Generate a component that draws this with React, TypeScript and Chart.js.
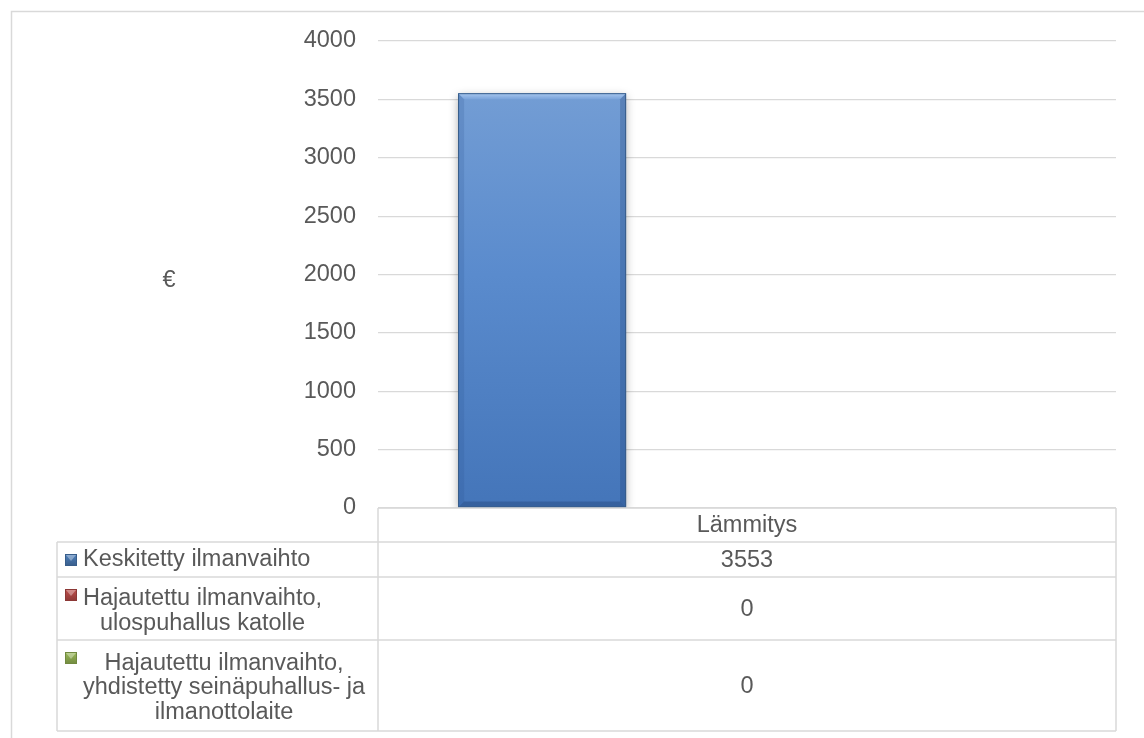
import React, { useEffect, useRef } from 'react';
import { Chart, registerables } from 'chart.js';

Chart.register(...registerables);

// ---- Data ----
const categories = ['Lämmitys'];
const seriesNames = [
  'Keskitetty ilmanvaihto',
  'Hajautettu ilmanvaihto, ulospuhallus katolle',
  'Hajautettu ilmanvaihto, yhdistetty seinäpuhallus- ja ilmanottolaite',
];
const keskitetty = [3553];
const hajautettuKatolle = [0];
const hajautettuSeina = [0];
const yMin = 0;
const yMax = 4000;
const yStep = 500;
const yAxisTitle = '€';

// ---- Styles ----
const seriesColors = ['#4f81bd', '#c0504d', '#9bbb59'];
const seriesEdges = ['#385d8a', '#8c3836', '#71893f'];
const FAMILY = '"Liberation Sans", Arial, sans-serif';
const FONT_SIZE = 23.5;
const FONT = `${FONT_SIZE}px ${FAMILY}`;
const TEXT = '#595959';
const LINE = '#d9d9d9';

function wrapText(ctx: CanvasRenderingContext2D, text: string, maxW: number): string[] {
  const words = text.split(' ');
  const lines: string[] = [];
  let cur = '';
  for (const w of words) {
    const test = cur ? cur + ' ' + w : w;
    if (cur && ctx.measureText(test).width > maxW) {
      lines.push(cur);
      cur = w;
    } else {
      cur = test;
    }
  }
  if (cur) lines.push(cur);
  return lines;
}

const shadowPlugin = {
  id: 'barShadow',
  beforeDatasetsDraw(chart: any) {
    const ctx = chart.ctx;
    ctx.save();
    ctx.shadowColor = 'rgba(0,0,0,0.35)';
    ctx.shadowBlur = 9;
    ctx.shadowOffsetX = 0;
    ctx.shadowOffsetY = 3;
  },
  afterDatasetsDraw(chart: any) {
    const ctx = chart.ctx;
    ctx.restore();
    const area = chart.chartArea;
    ctx.save();
    ctx.beginPath();
    ctx.rect(area.left, area.top - 5, area.right - area.left, area.bottom - area.top + 5);
    ctx.clip();
    chart.data.datasets.forEach((_ds: any, di: number) => {
      const meta = chart.getDatasetMeta(di);
      meta.data.forEach((el: any) => {
        const { x, y, base, width } = el.getProps(['x', 'y', 'base', 'width'], true);
        const h = base - y;
        if (h < 2) return;
        const l = x - width / 2;
        const r = x + width / 2;
        const t = y;
        const b = base;
        const bv = 6;
        ctx.beginPath();
        ctx.moveTo(l, t);
        ctx.lineTo(r, t);
        ctx.lineTo(r - bv, t + bv);
        ctx.lineTo(l + bv, t + bv);
        ctx.closePath();
        const tg = ctx.createLinearGradient(0, t, 0, t + bv);
        tg.addColorStop(0, '#a9c8ef');
        tg.addColorStop(1, '#7aa3da');
        ctx.fillStyle = tg;
        ctx.fill();
        ctx.beginPath();
        ctx.moveTo(l, t);
        ctx.lineTo(l + bv, t + bv);
        ctx.lineTo(l + bv, b - bv);
        ctx.lineTo(l, b);
        ctx.closePath();
        ctx.fillStyle = 'rgba(40,80,140,0.18)';
        ctx.fill();
        ctx.beginPath();
        ctx.moveTo(r, t);
        ctx.lineTo(r - bv, t + bv);
        ctx.lineTo(r - bv, b - bv);
        ctx.lineTo(r, b);
        ctx.closePath();
        ctx.fillStyle = 'rgba(30,60,110,0.28)';
        ctx.fill();
        ctx.beginPath();
        ctx.moveTo(l, b);
        ctx.lineTo(r, b);
        ctx.lineTo(r - bv, b - bv);
        ctx.lineTo(l + bv, b - bv);
        ctx.closePath();
        ctx.fillStyle = 'rgba(30,60,110,0.35)';
        ctx.fill();
        ctx.strokeStyle = seriesEdges[di];
        ctx.lineWidth = 1;
        ctx.strokeRect(l + 0.5, t + 0.5, width - 1, h - 1);
      });
    });
    ctx.restore();
  },
};

const tablePlugin = {
  id: 'dataTable',
  afterDraw(chart: any) {
    const ctx: CanvasRenderingContext2D = chart.ctx;
    const area = chart.chartArea;
    ctx.save();

    ctx.strokeStyle = LINE;
    ctx.lineWidth = 1.5;
    ctx.strokeRect(11.5, 11.5, chart.width + 40, chart.height + 40);

    ctx.font = FONT;
    ctx.fillStyle = TEXT;
    ctx.textAlign = 'center';
    ctx.textBaseline = 'middle';

    ctx.fillText(yAxisTitle, 169, (area.top + area.bottom) / 2 + 6);

    const left = area.left;
    const right = area.right;
    const labelLeft = 57;
    const headerH = 34;
    const catW = (right - left) / chart.data.labels.length;
    const tableTop = area.bottom;

    chart.data.labels.forEach((c: string, i: number) => {
      ctx.fillText(c, left + catW * (i + 0.5), tableTop + headerH / 2 + 1);
    });

    const hLines: Array<[number, number, number]> = [[tableTop, left, right]];
    let y = tableTop + headerH;
    const lh = 24.5;
    chart.data.datasets.forEach((ds: any, di: number) => {
      ctx.font = FONT;
      const lines = wrapText(ctx, ds.label, 300);
      const h = 35 + (lines.length - 1) * 28;
      hLines.push([y, labelLeft, right]);
      const cy = y + h / 2 + (lines.length > 1 ? 2.5 : 0.5);
      const maxW = Math.max(...lines.map((ln) => ctx.measureText(ln).width));
      const blockCx = 83 + maxW / 2;
      ctx.fillStyle = TEXT;
      lines.forEach((ln, li) => {
        ctx.fillText(ln, blockCx, cy + (li - (lines.length - 1) / 2) * lh);
      });
      const mx = 65;
      const my = y + 12;
      const ms = 12;
      const g = ctx.createLinearGradient(0, my, 0, my + ms);
      g.addColorStop(0, seriesColors[di]);
      g.addColorStop(1, seriesEdges[di]);
      ctx.fillStyle = g;
      ctx.fillRect(mx, my, ms, ms);
      ctx.beginPath();
      ctx.moveTo(mx + 1, my + 1);
      ctx.lineTo(mx + ms - 1, my + 1);
      ctx.lineTo(mx + ms / 2, my + ms / 2 + 1);
      ctx.closePath();
      ctx.fillStyle = 'rgba(255,255,255,0.35)';
      ctx.fill();
      ctx.strokeStyle = seriesEdges[di];
      ctx.lineWidth = 1;
      ctx.strokeRect(mx + 0.5, my + 0.5, ms - 1, ms - 1);
      ctx.fillStyle = TEXT;
      ds.data.forEach((v: number, ci: number) => {
        ctx.fillText(String(v), left + catW * (ci + 0.5), y + h / 2 + 1);
      });
      y += h;
    });
    const tableBottom = y;
    hLines.push([tableBottom, labelLeft, right]);

    ctx.strokeStyle = LINE;
    ctx.lineWidth = 1.5;
    ctx.beginPath();
    hLines.forEach(([yy, x0, x1]) => {
      ctx.moveTo(x0, yy);
      ctx.lineTo(x1, yy);
    });
    ctx.moveTo(left, tableTop);
    ctx.lineTo(left, tableBottom);
    ctx.moveTo(right, tableTop);
    ctx.lineTo(right, tableBottom);
    ctx.moveTo(labelLeft, tableTop + headerH);
    ctx.lineTo(labelLeft, tableBottom);
    for (let i = 1; i < chart.data.labels.length; i++) {
      ctx.moveTo(left + catW * i, tableTop);
      ctx.lineTo(left + catW * i, tableBottom);
    }
    ctx.stroke();
    ctx.restore();
  },
};

function barGradient(context: any) {
  const chart = context.chart;
  const area = chart.chartArea;
  if (!area) return seriesColors[0];
  const g = chart.ctx.createLinearGradient(0, area.top, 0, area.bottom);
  g.addColorStop(0, '#7aa2d6');
  g.addColorStop(0.5, '#5a8bcd');
  g.addColorStop(1, '#4475b9');
  return g;
}

export default function App() {
  const ref = useRef<HTMLCanvasElement>(null);
  useEffect(() => {
    if (!ref.current) return;
    const chart = new Chart(ref.current, {
      type: 'bar',
      data: {
        labels: categories,
        datasets: [
          { label: seriesNames[0], data: keskitetty, backgroundColor: barGradient, borderWidth: 0 },
          { label: seriesNames[1], data: hajautettuKatolle, backgroundColor: seriesColors[1], borderWidth: 0 },
          { label: seriesNames[2], data: hajautettuSeina, backgroundColor: seriesColors[2], borderWidth: 0 },
        ],
      },
      options: {
        animation: false,
        responsive: true,
        maintainAspectRatio: false,
        events: [],
        layout: { padding: { left: 0, top: 41, right: 28, bottom: 230 } },
        datasets: { bar: { categoryPercentage: 0.833, barPercentage: 0.82 } },
        plugins: { legend: { display: false }, tooltip: { enabled: false }, title: { display: false } },
        scales: {
          x: { display: false },
          y: {
            min: yMin,
            max: yMax,
            border: { display: false },
            grid: { color: LINE, lineWidth: 1.2, drawTicks: false },
            ticks: {
              stepSize: yStep,
              padding: 22,
              color: TEXT,
              font: { family: FAMILY, size: FONT_SIZE },
              callback: (v: any) => String(v),
            },
            afterFit: (scale: any) => {
              scale.width = 378;
            },
          },
        },
      },
      plugins: [shadowPlugin, tablePlugin],
    });
    return () => chart.destroy();
  }, []);
  return (
    <div style={{ position: 'absolute', left: 0, top: 0, width: 1144, height: 738, background: '#fff' }}>
      <canvas ref={ref} />
    </div>
  );
}
